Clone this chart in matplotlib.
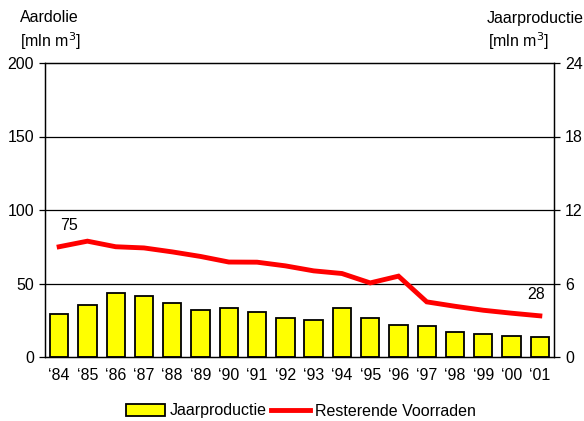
import matplotlib
matplotlib.use("Agg")
import matplotlib.pyplot as plt
import numpy as np

plt.rcParams['font.family'] = ['Liberation Sans', 'DejaVu Sans']

years = ["‘84", "‘85", "‘86", "‘87", "‘88", "‘89", "‘90", "‘91", "‘92", "‘93",
         "‘94", "‘95", "‘96", "‘97", "‘98", "‘99", "‘00", "‘01"]
jaarproductie = [3.47, 4.25, 5.2, 4.96, 4.39, 3.82, 4.04, 3.71, 3.22, 3.0,
                 4.04, 3.22, 2.65, 2.53, 2.08, 1.91, 1.72, 1.61]
voorraden = [75, 78.8, 75, 74.2, 71.5, 68.4, 64.6, 64.5, 62, 58.6,
             56.8, 50.4, 55, 37.5, 34.5, 31.8, 29.8, 28]
left_ticks = [0, 50, 100, 150, 200]
right_ticks = [0, 6, 12, 18, 24]

fig = plt.figure(figsize=(5.84, 4.21), dpi=100)
ax = fig.add_axes([45/584, 1-357/421, 509/584, 294/421])
ax2 = ax.twinx()

x = np.arange(len(years))
ax2.bar(x, jaarproductie, width=0.65, color='#ffff00', edgecolor='black',
        linewidth=1.3, zorder=2, label='Jaarproductie')
ax.plot(x, voorraden, color='#ff0000', linewidth=3.5, zorder=3,
        label='Resterende Voorraden', solid_joinstyle='miter')

ax.set_zorder(ax2.get_zorder() + 1)
ax.patch.set_visible(False)

ax.set_xlim(-0.5, len(years) - 0.5)
ax.set_ylim(0, 200)
ax2.set_ylim(0, 24)
ax.set_yticks(left_ticks)
ax2.set_yticks(right_ticks)
ax.set_xticks(x)
ax.set_xticklabels(years)

for v in [50, 100, 150]:
    ax.axhline(v, color='black', linewidth=0.9, zorder=1)

fs = 11.5
ax.tick_params(axis='y', labelsize=fs, length=4, width=0.9, pad=4)
ax2.tick_params(axis='y', labelsize=fs, length=4, width=0.9, pad=4)
ax.tick_params(axis='x', labelsize=fs, length=0, pad=8)
for s in ax.spines.values():
    s.set_linewidth(0.9)
for s in ax2.spines.values():
    s.set_linewidth(0.9)

ax.annotate('75', (0, voorraden[0]), xytext=(1, 10), textcoords='offset points',
            ha='left', va='bottom', fontsize=fs)
ax.annotate('28', (len(years) - 1, voorraden[-1]), xytext=(-3, 10),
            textcoords='offset points', ha='center', va='bottom', fontsize=fs)

fig.text(20/584, 1-18/421, 'Aardolie', fontsize=fs, ha='left', va='center')
fig.text(20/584, 1-41/421, '[mln m$^3$]', fontsize=fs, ha='left', va='center')
fig.text(584/584, 1-18/421, 'Jaarproductie', fontsize=fs, ha='right', va='center')
fig.text(488/584, 1-41/421, '[mln m$^3$]', fontsize=fs, ha='left', va='center')

h1, l1 = ax2.get_legend_handles_labels()
h2, l2 = ax.get_legend_handles_labels()
fig.legend(h1 + h2, l1 + l2, loc='center', bbox_to_anchor=(301/584, 1-411/421),
           ncol=2, frameon=False, fontsize=fs, handlelength=2.45,
           handleheight=0.7, handletextpad=0.3, columnspacing=0.25)

fig.savefig('out.png', dpi=100)
